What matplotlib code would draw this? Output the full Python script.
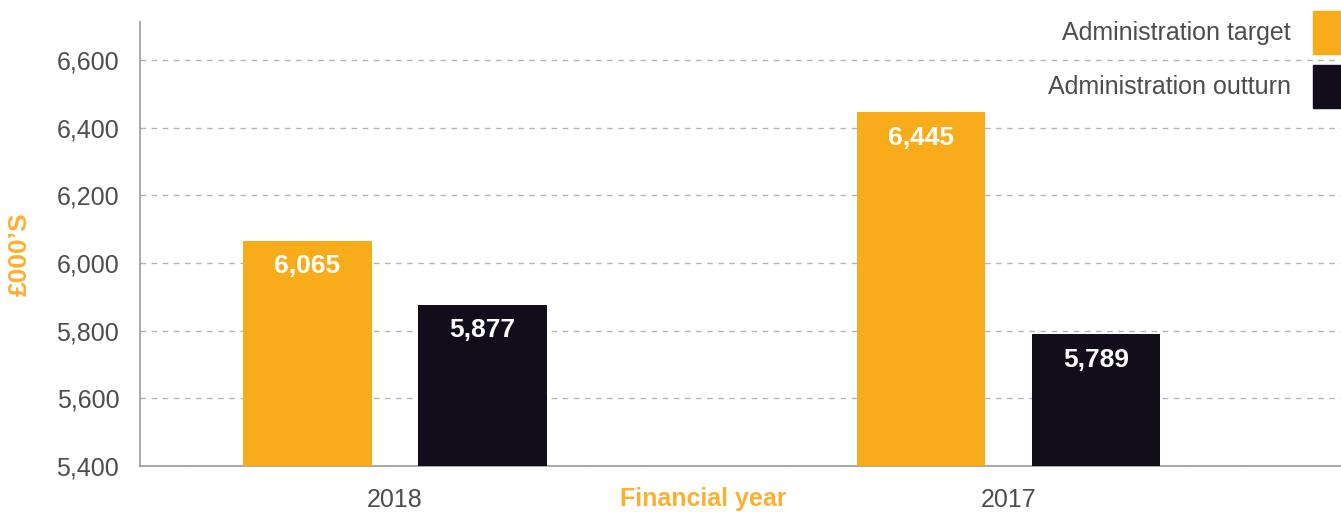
import numpy as np
import matplotlib.pyplot as plt
from matplotlib.patches import Rectangle

# data
years = ['2018', '2017']
target = [6065, 6445]
outturn = [5877, 5789]
series_names = ['Administration target', 'Administration outturn']
yticks = [5400, 5600, 5800, 6000, 6200, 6400, 6600]

orange = '#F9AC1A'
dark = '#120D1B'
grey_text = '#4d4d4d'

plt.rcParams['font.family'] = ['Liberation Sans', 'DejaVu Sans']

fig = plt.figure(figsize=(13.41, 5.12), dpi=100)
ax = fig.add_axes([140 / 1341, 1 - 466 / 512, 1 - 140 / 1341, (466 - 22) / 512])

x = np.arange(len(years))
w = 0.21
off = 0.1426
b1 = ax.bar(x - off, target, w, color=orange, zorder=3)
b2 = ax.bar(x + off, outturn, w, color=dark, zorder=3)

for bars in (b1, b2):
    for r in bars:
        h = r.get_height()
        ax.text(r.get_x() + r.get_width() / 2, h - 75, f'{h:,.0f}',
                ha='center', va='center', color='white', fontsize=19,
                fontweight='bold', zorder=4)

ax.set_xlim(-0.4157, 1.542)
ax.set_ylim(5400, 6712)
ax.set_yticks(yticks)
ax.set_yticklabels([f'{v:,}' for v in yticks])
ax.set_xticks(x)
ax.set_xticklabels(years)
ax.tick_params(axis='both', length=0, labelsize=18, labelcolor=grey_text)
ax.tick_params(axis='y', pad=15)
ax.tick_params(axis='x', pad=16)

ax.yaxis.grid(True, linestyle=(0, (4, 4)), color='#b5b5b5', linewidth=1, zorder=0)
for s in ('top', 'right'):
    ax.spines[s].set_visible(False)
for s in ('left', 'bottom'):
    ax.spines[s].set_color('#999999')
    ax.spines[s].set_linewidth(1.2)

fig.text(20 / 1341, 1 - 254 / 512, '£000’S', rotation=90, ha='center', va='center',
         color='#FBB034', fontsize=19, fontweight='bold')
fig.text(703 / 1341, 1 - 499 / 512, 'Financial year', ha='center', va='center',
         color='#FBB034', fontsize=18, fontweight='bold')

# legend
leg_y = [33, 87]
for name, col, yc in zip(series_names, [orange, dark], leg_y):
    fig.patches.append(Rectangle((1313 / 1341, 1 - (yc + 21) / 512), 28 / 1341, 43 / 512,
                                 transform=fig.transFigure, color=col, zorder=5))
    fig.text(1291 / 1341, 1 - yc / 512, name, ha='right', va='center',
             color=grey_text, fontsize=18)

fig.savefig('out.png', dpi=100)
